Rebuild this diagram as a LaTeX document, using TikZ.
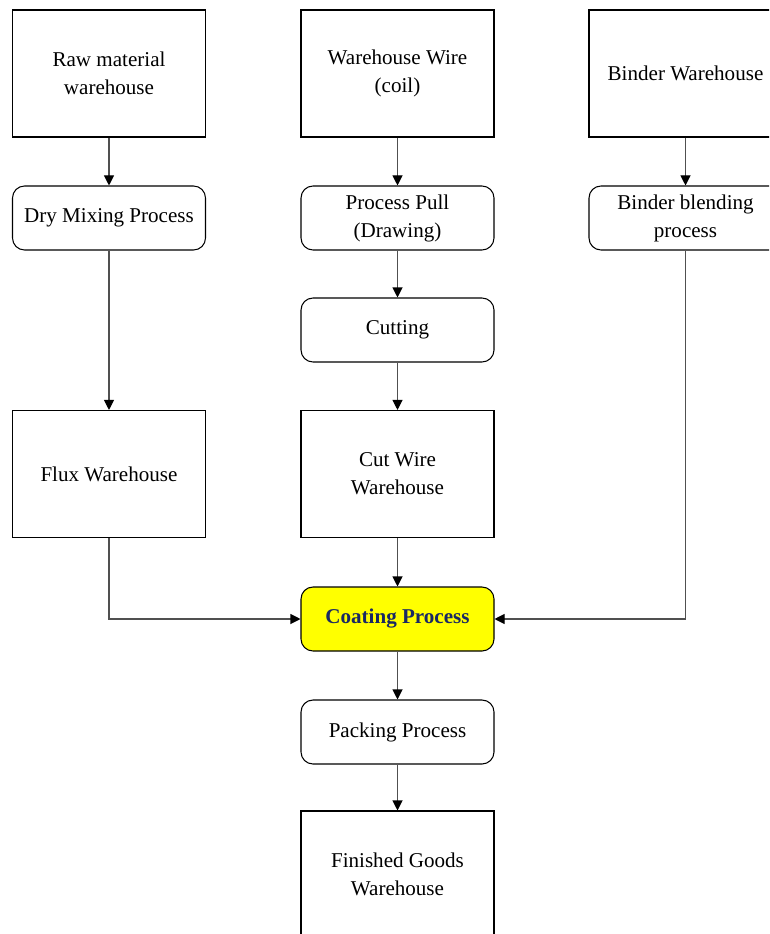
\documentclass[tikz,border=0pt]{standalone}
\usepackage{fontspec}
\setmainfont{Liberation Serif}
\usetikzlibrary{arrows.meta}
\definecolor{coatfill}{RGB}{255,255,0}
\definecolor{coattext}{RGB}{25,40,100}
\definecolor{linegray}{RGB}{80,80,80}

\begin{document}
\begin{tikzpicture}[x=0.75pt, y=-0.75pt,
    store/.style={draw=black, line width=0.8pt, minimum width=144.75pt, minimum height=95.25pt, align=center, inner sep=0pt, font=\fontsize{15.8}{21}\selectfont},
    proc/.style={store, rounded corners=9pt, minimum height=48pt},
    flow/.style={draw=linegray, line width=0.8pt, -{Triangle[length=7.5pt,width=7.5pt,color=black]}}]
    \useasboundingbox (0,0) rectangle (769,934);
    \clip (0,0) rectangle (769,934);
    % left column
    \node[store] (raw) at (109,73.5) {Raw material\\warehouse};
    \node[proc] (drymix) at (109,218) {Dry Mixing Process};
    \node[store] (flux) at (109,474) {Flux Warehouse};
    % middle column
    \node[store] (wire) at (397.5,73.5) {Warehouse Wire\\(coil)};
    \node[proc] (pull) at (397.5,218) {Process Pull\\(Drawing)};
    \node[proc] (cutting) at (397.5,330) {Cutting};
    \node[store] (cutwire) at (397.5,474) {Cut Wire\\Warehouse};
    \node[proc, fill=coatfill, text=coattext, font=\fontsize{15.8}{21}\selectfont\bfseries] (coating) at (397.5,619) {Coating Process};
    \node[proc] (packing) at (397.5,732) {Packing Process};
    \node[store] (finished) at (397.5,874.5) {Finished Goods\\Warehouse};
    % right column
    \node[store] (binder) at (685.5,73.5) {Binder Warehouse};
    \node[proc] (blending) at (685.5,218) {Binder blending\\process};

    \draw[flow] (raw) -- (drymix);
    \draw[flow] (drymix) -- (flux);
    \draw[flow] (wire) -- (pull);
    \draw[flow] (pull) -- (cutting);
    \draw[flow] (cutting) -- (cutwire);
    \draw[flow] (cutwire) -- (coating);
    \draw[flow] (coating) -- (packing);
    \draw[flow] (packing) -- (finished);
    \draw[flow] (binder) -- (blending);
    \draw[flow] (flux.south) |- (coating.west);
    \draw[flow] (blending.south) |- (coating.east);
\end{tikzpicture}
\end{document}
